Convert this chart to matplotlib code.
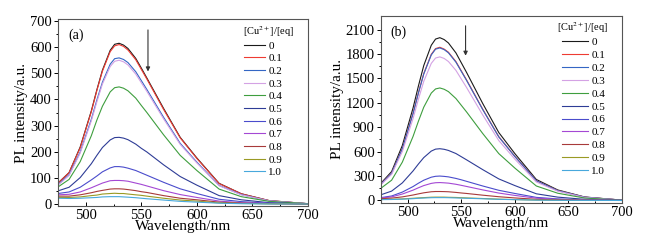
import numpy as np
import matplotlib
matplotlib.use("Agg")
from matplotlib import pyplot as plt

plt.rcParams['font.family'] = ['Liberation Serif', 'DejaVu Serif']
plt.rcParams['mathtext.fontset'] = 'stix'

wl = [475, 485, 495, 505, 510, 515, 522, 526, 530, 534, 538, 545, 550, 555,
      570, 585, 600, 620, 640, 665, 700]

# Cu2+ equivalents (legend labels)
eq = ['0', '0.1', '0.2', '0.3', '0.4', '0.5', '0.6', '0.7', '0.8', '0.9', '1.0']
cores = ['#1a1a1a', '#ee3b32', '#3466c4', '#d4a2e4', '#3e9e3e', '#2e3c96',
         '#4a4ccc', '#a448d4', '#a83a3a', '#9a9a24', '#48a8dc']

# panel (a) intensities
ya = [
    [80, 120, 218, 356, 437, 512, 588, 611, 615, 608, 595, 557, 520, 482, 366, 255, 176, 79, 39, 13, 1],
    [79, 120, 215, 353, 434, 508, 583, 605, 610, 603, 589, 552, 515, 478, 362, 253, 174, 78, 39, 13, 1],
    [74, 112, 199, 324, 398, 466, 535, 556, 559, 553, 541, 506, 472, 438, 332, 232, 160, 71, 36, 12, 1],
    [72, 109, 195, 318, 391, 459, 526, 546, 550, 544, 532, 497, 464, 431, 326, 228, 157, 70, 35, 12, 1],
    [65, 94, 162, 261, 321, 374, 429, 445, 448, 443, 433, 405, 377, 350, 265, 186, 128, 57, 28, 10, 1],
    [50, 64, 101, 154, 186, 216, 245, 254, 255, 252, 246, 229, 213, 199, 150, 105, 72, 32, 16, 5, 0],
    [40, 46, 64, 92, 107, 123, 138, 143, 143, 141, 137, 128, 119, 110, 83, 58, 40, 18, 9, 3, 0],
    [35, 37, 46, 62, 71, 80, 89, 90, 90, 89, 87, 80, 75, 69, 51, 36, 25, 11, 5, 2, 0],
    [30, 30, 35, 43, 48, 52, 57, 58, 58, 57, 55, 51, 47, 44, 32, 22, 16, 7, 3, 1, 0],
    [25, 25, 27, 32, 34, 38, 40, 41, 40, 40, 38, 35, 33, 30, 22, 15, 11, 4, 2, 1, 0],
    [22, 21, 22, 24, 25, 27, 28, 28, 28, 27, 26, 24, 22, 20, 15, 10, 7, 3, 1, 0, 0],
]

# panel (b) intensities
yb = [
    [211, 355, 676, 1137, 1407, 1659, 1908, 1984, 2001, 1978, 1936, 1814, 1693, 1572, 1192, 835, 576, 258, 129, 43, 4],
    [200, 336, 638, 1071, 1325, 1561, 1796, 1867, 1883, 1861, 1822, 1707, 1593, 1480, 1122, 784, 542, 243, 122, 41, 4],
    [200, 335, 636, 1067, 1320, 1554, 1789, 1860, 1875, 1854, 1815, 1700, 1587, 1474, 1117, 781, 540, 242, 121, 41, 4],
    [194, 321, 602, 1007, 1244, 1465, 1685, 1751, 1765, 1746, 1708, 1599, 1493, 1387, 1051, 736, 508, 227, 114, 38, 3],
    [150, 249, 471, 787, 974, 1147, 1320, 1371, 1383, 1367, 1338, 1253, 1170, 1087, 823, 576, 398, 178, 89, 30, 3],
    [70, 115, 216, 363, 448, 527, 607, 631, 636, 629, 615, 577, 538, 499, 379, 265, 183, 82, 41, 14, 1],
    [35, 55, 103, 171, 212, 249, 286, 297, 300, 296, 290, 271, 254, 235, 178, 125, 86, 38, 19, 6, 1],
    [30, 44, 79, 127, 156, 183, 210, 218, 220, 217, 213, 199, 186, 172, 130, 91, 62, 28, 14, 5, 0],
    [22, 29, 44, 67, 81, 94, 107, 110, 110, 109, 107, 99, 92, 86, 65, 46, 31, 14, 7, 2, 0],
    [12, 14, 19, 27, 31, 35, 40, 41, 41, 41, 39, 37, 34, 31, 24, 16, 11, 5, 2, 1, 0],
    [10, 12, 16, 22, 27, 30, 34, 35, 35, 35, 34, 31, 29, 27, 21, 14, 10, 4, 2, 1, 0],
]

fig = plt.figure(figsize=(6.5, 2.43), dpi=100)
axA = fig.add_axes([0.0892, 0.152, 0.3846, 0.770])
axB = fig.add_axes([0.586, 0.165, 0.371, 0.770])

def painel(ax, dados, ylim, yticks, letra, seta, leg_xy, tit_xy, hl, ls):
    for k in range(len(eq)):
        ax.plot(wl, dados[k], color=cores[k], lw=0.8, label=eq[k])
    ax.set_xlim(475, 700)
    ax.set_ylim(*ylim)
    ax.set_xticks([500, 550, 600, 650, 700])
    ax.set_xticks([525, 575, 625, 675], minor=True)
    ax.set_yticks(yticks)
    ax.set_yticks([(yticks[i] + yticks[i + 1]) / 2 for i in range(len(yticks) - 1)], minor=True)
    ax.tick_params(axis='x', which='both', direction='in', labelsize=10.5, length=3, width=0.7, pad=2)
    ax.tick_params(axis='y', which='both', direction='out', labelsize=10.5, length=3, width=0.7, pad=1.5)
    ax.tick_params(which='minor', length=1.8)
    for s in ax.spines.values():
        s.set_color('#555555')
        s.set_linewidth(0.8)
    ax.set_xlabel('Wavelength/nm', fontsize=11, labelpad=-1)
    ax.set_ylabel('PL intensity/a.u.', fontsize=11, labelpad=1)
    ax.text(0.04, 0.95, letra, transform=ax.transAxes, fontsize=10, va='top')
    ax.annotate('', xy=(seta[0], seta[2]), xytext=(seta[0], seta[1]),
                arrowprops=dict(arrowstyle='-|>', color='#333333', lw=0.8,
                                mutation_scale=6, shrinkA=0, shrinkB=0))
    ax.legend(loc='upper left', bbox_to_anchor=leg_xy, frameon=False,
              fontsize=8, handlelength=hl, handletextpad=0.3, labelspacing=ls,
              borderpad=0, borderaxespad=0)
    ax.text(tit_xy[0], tit_xy[1], '[Cu$^{2+}$]/[eq]', transform=ax.transAxes,
            fontsize=7.5, va='center', ha='left')

painel(axA, ya, (-8, 708), [0, 100, 200, 300, 400, 500, 600, 700], '(a)',
       (556, 666, 507), (0.744, 0.883), (0.74, 0.935), 1.9, 0.26)
painel(axB, yb, (-30, 2270), [0, 300, 600, 900, 1200, 1500, 1800, 2100], '(b)',
       (554, 2147, 1779), (0.751, 0.885), (0.73, 0.935), 2.35, 0.28)

fig.savefig('out.png', dpi=100)
